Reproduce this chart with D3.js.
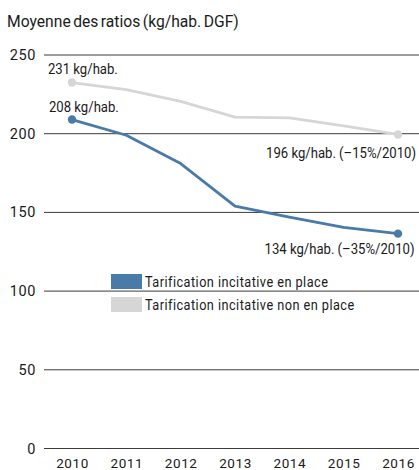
<!DOCTYPE html>
<html><head><meta charset="utf-8">
<script src="https://cdn.jsdelivr.net/npm/d3@7"></script>
<style>
body{margin:0;background:#fff;}
text{font-family:Roboto,"DejaVu Sans",sans-serif;fill:#1a1a1a;}
</style></head><body>
<svg id="c" width="419" height="470"></svg>
<script>
const years = [2010,2011,2012,2013,2014,2015,2016];
const withTI = [209,199,181,154,147,140.5,136.5];
const withoutTI = [232.5,228,220.5,210.5,210,205,199.5];
const yTicks = [0,50,100,150,200,250];
const seriesNames = ["Tarification incitative en place","Tarification incitative non en place"];
const colors = ["#4a7aa8","#d6d6d6"];
const title = "Moyenne des ratios (kg/hab. DGF)";
const annotations = [
  {text:"231 kg/hab.", series:1, i:0, anchor:"start", dx:-24, dy:-8.6},
  {text:"208 kg/hab.", series:0, i:0, anchor:"start", dx:-23, dy:-7.5},
  {text:"196 kg/hab. (–15%/2010)", series:1, i:6, anchor:"end", dx:18, dy:23.5},
  {text:"134 kg/hab. (–35%/2010)", series:0, i:6, anchor:"end", dx:16.5, dy:20}
];

const svg = d3.select("#c");
const x = d3.scalePoint().domain(years).range([72,398]);
const y = d3.scaleLinear().domain([0,250]).range([448.5,55]);

function ctext(parent, px, py, sx){
  return parent.append("text").attr("transform",`translate(${px},${py}) scale(${sx},1)`);
}

ctext(svg,7,27,0.95).attr("font-size",16.5).attr("word-spacing","-1.5px").text(title);

const gy = svg.append("g");
gy.selectAll("line").data(yTicks).join("line")
  .attr("x1",44).attr("x2",419).attr("y1",d=>y(d)).attr("y2",d=>y(d))
  .attr("stroke","#3a3a3a").attr("stroke-width",1);
gy.selectAll("text").data(yTicks).join("text")
  .attr("x",36).attr("y",d=>y(d)+5).attr("text-anchor","end").attr("font-size",14.5)
  .attr("letter-spacing","0.6px").attr("fill","#222").text(d=>d);

const xAxis = d3.axisBottom(x).tickSize(0).tickPadding(0);
const gx = svg.append("g").attr("transform","translate(0,467.5)").call(xAxis);
gx.select(".domain").remove();
gx.selectAll("text").attr("font-size",13.5).attr("fill","#222").attr("dy",0)
  .attr("letter-spacing","0.6px").attr("font-family","Roboto,sans-serif");

const line = d3.line().x((d,i)=>x(years[i])).y(d=>y(d));
[withoutTI, withTI].forEach((s,k)=>{
  const col = k===0?colors[1]:colors[0];
  svg.append("path").datum(s).attr("d",line).attr("fill","none")
    .attr("stroke",col).attr("stroke-width",2.8).attr("stroke-linejoin","round");
  svg.selectAll(null).data([0,6]).join("circle")
    .attr("cx",i=>x(years[i])).attr("cy",i=>y(s[i])).attr("r",4.2).attr("fill",col);
});

const seriesData=[withTI,withoutTI];
annotations.forEach(a=>{
  ctext(svg, x(years[a.i])+a.dx, y(seriesData[a.series][a.i])+a.dy, 0.875)
    .attr("text-anchor",a.anchor).attr("font-size",15).text(a.text);
});

const lg = svg.append("g").attr("transform","translate(111,274)");
seriesNames.forEach((n,k)=>{
  lg.append("rect").attr("x",0).attr("y",k*23).attr("width",31).attr("height",15).attr("fill",colors[k]);
  ctext(lg,34,k*23+13,0.91).attr("font-size",14)
    .attr("letter-spacing","0.5px").attr("fill","#333").text(n);
});
</script></body></html>
